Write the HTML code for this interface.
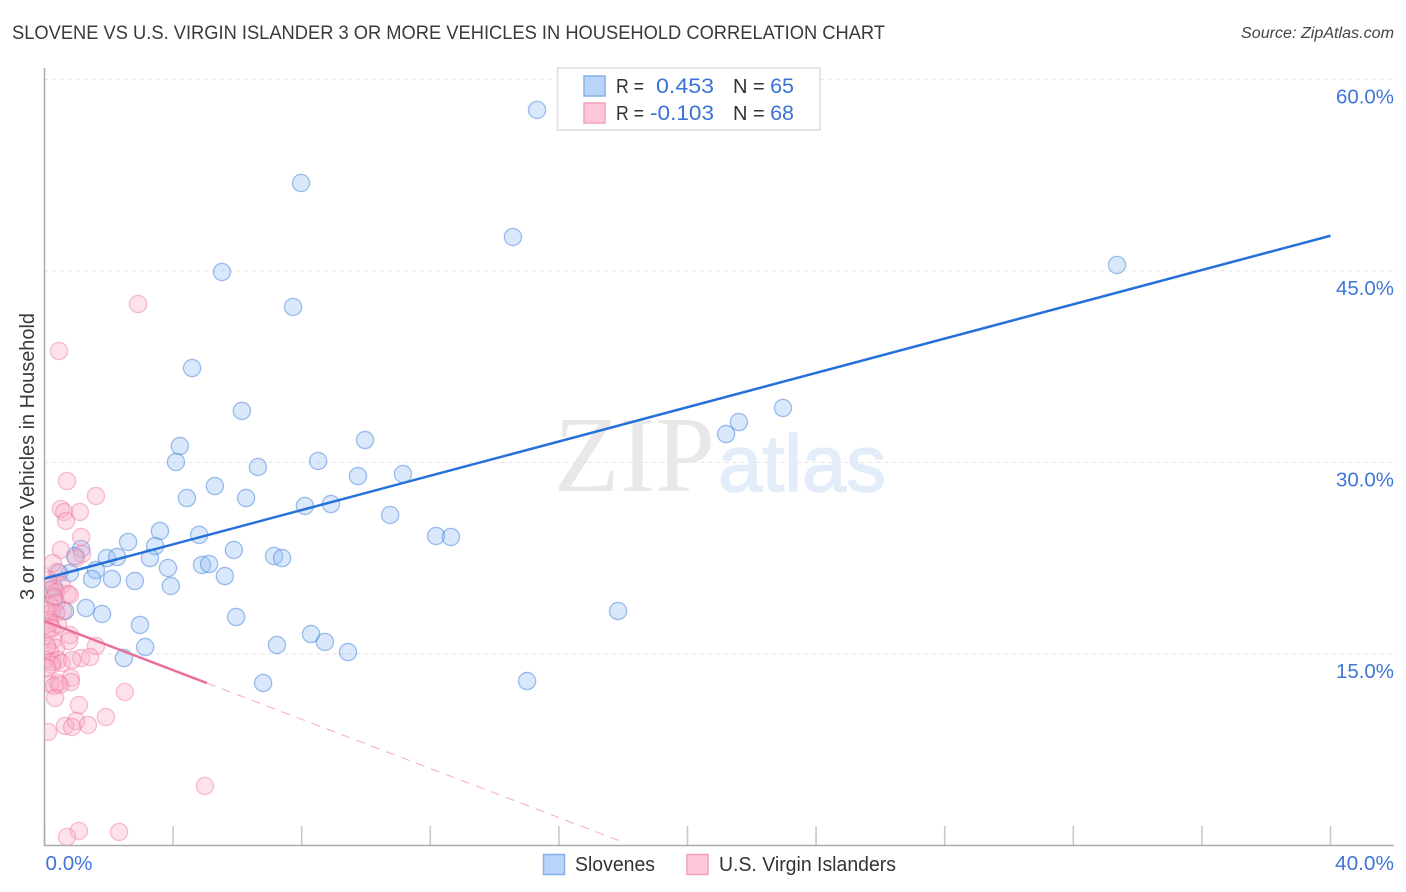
<!DOCTYPE html>
<html lang="en">
<head>
<meta charset="utf-8">
<title>Slovene vs U.S. Virgin Islander 3 or more Vehicles in Household Correlation Chart</title>
<style>
html,body{margin:0;padding:0;background:#fff;}
svg{display:block;font-family:"Liberation Sans",sans-serif;}
</style>
</head>
<body>
<svg id="chart" xmlns="http://www.w3.org/2000/svg" width="1406" height="892" viewBox="0 0 1406 892">
<defs><clipPath id="plot-clip"><rect x="44.5" y="60" width="1350" height="785"/></clipPath></defs>
<text x="12" y="39" font-size="19.5" fill="#3a3a3a" textLength="873" lengthAdjust="spacingAndGlyphs">SLOVENE VS U.S. VIRGIN ISLANDER 3 OR MORE VEHICLES IN HOUSEHOLD CORRELATION CHART</text>
<text x="1394" y="38" font-size="15.5" font-style="italic" fill="#444" text-anchor="end" textLength="153" lengthAdjust="spacingAndGlyphs">Source: ZipAtlas.com</text>
<text transform="translate(34 600) rotate(-90)" font-size="20" fill="#3a3a3a" textLength="287" lengthAdjust="spacingAndGlyphs">3 or more Vehicles in Household</text>
<g id="grid"></g>
<text x="554" y="491" font-family="'Liberation Serif',serif" font-size="108" fill="#e8e8e8" textLength="161" lengthAdjust="spacingAndGlyphs">ZIP</text>
<text x="718" y="491" font-size="80" fill="#e3edfa" stroke="#e3edfa" stroke-width="1.5" textLength="168" lengthAdjust="spacingAndGlyphs">atlas</text>
<g id="xticks"></g>
<line x1="44.5" y1="68" x2="44.5" y2="845.5" stroke="#aaa" stroke-width="1.5"/>
<line x1="44" y1="845.5" x2="1394" y2="845.5" stroke="#aaa" stroke-width="1.5"/>
<g id="points" clip-path="url(#plot-clip)"></g>
<g id="trends"></g>
<g id="ylabels"></g>
<g id="xlabels"></g>

<g>
  <rect x="557.5" y="68" width="262.5" height="62" fill="#fff" stroke="#ddd" stroke-width="1.5"/>
  <rect x="584" y="76" width="21" height="20" fill="#b9d4f8" stroke="#85b0e8" stroke-width="1.5"/>
  <rect x="584" y="103" width="21" height="20" fill="#fdc8da" stroke="#f2a2bc" stroke-width="1.5"/>
  <text x="616" y="93" font-size="20" fill="#333" textLength="28" lengthAdjust="spacingAndGlyphs">R =</text>
  <text x="714" y="93" font-size="21.5" fill="#3b72d6" text-anchor="end" textLength="58" lengthAdjust="spacingAndGlyphs">0.453</text>
  <text x="733" y="93" font-size="20" fill="#333">N =</text>
  <text x="794" y="93" font-size="21.5" fill="#3b72d6" text-anchor="end">65</text>
  <text x="616" y="120" font-size="20" fill="#333" textLength="28" lengthAdjust="spacingAndGlyphs">R =</text>
  <text x="714" y="120" font-size="21.5" fill="#3b72d6" text-anchor="end" textLength="64" lengthAdjust="spacingAndGlyphs">-0.103</text>
  <text x="733" y="120" font-size="20" fill="#333">N =</text>
  <text x="794" y="120" font-size="21.5" fill="#3b72d6" text-anchor="end">68</text>
</g>

<g>
  <rect x="543.5" y="854.5" width="21" height="20" fill="#b9d4f8" stroke="#85b0e8" stroke-width="1.5"/>
  <text x="575" y="871" font-size="20" fill="#333" textLength="80" lengthAdjust="spacingAndGlyphs">Slovenes</text>
  <rect x="687" y="854.5" width="21" height="20" fill="#fdc8da" stroke="#f2a2bc" stroke-width="1.5"/>
  <text x="719" y="871" font-size="20" fill="#333" textLength="177" lengthAdjust="spacingAndGlyphs">U.S. Virgin Islanders</text>
</g>
</svg>
<script>
const slovenesX = [15.32,7.98,14.57,5.52,7.73,33.36,4.59,6.14,22.97,21.60,21.20,9.97,4.21,4.09,8.51,6.64,9.75,11.15,5.30,4.43,6.27,8.10,8.91,10.75,3.59,4.81,2.60,3.44,12.18,12.64,5.89,1.14,0.95,1.94,2.26,3.28,7.14,7.39,4.90,5.12,3.84,5.61,1.60,0.79,0.45,1.48,2.10,2.81,3.93,17.84,1.29,1.79,0.64,5.96,2.97,8.29,8.72,3.13,7.23,9.44,2.47,6.80,15.01,0.30,0.30];
const slovenesY = [57.60,51.88,47.65,44.91,42.17,45.46,37.39,34.03,34.26,33.16,32.22,31.75,31.28,30.03,30.11,29.64,28.93,29.09,28.15,27.21,27.21,26.59,26.74,25.88,24.63,24.32,23.77,23.45,24.24,24.16,23.14,23.22,22.67,22.51,22.59,22.51,22.67,22.51,21.97,22.04,21.73,21.10,21.57,21.34,21.34,20.87,20.87,20.71,20.32,18.36,18.60,18.13,18.36,17.89,17.27,16.56,15.94,15.54,15.70,15.15,14.68,12.73,12.88,20.16,19.38];
const islandersX = [2.91,0.45,0.70,1.60,0.51,0.61,1.10,0.67,1.14,0.51,1.17,0.98,0.26,0.39,0.26,0.54,0.11,0.17,0.36,0.73,0.79,0.30,0.17,0.36,0.58,0.23,0.36,0.14,0.42,0.17,0.08,0.79,0.76,1.60,0.26,0.36,0.17,1.14,1.42,0.05,0.26,0.42,0.54,0.23,0.86,0.82,0.82,0.17,0.42,0.30,0.48,0.33,1.07,1.91,2.50,0.11,0.64,0.98,0.86,1.35,4.99,1.07,0.70,2.32,0.05,0.08,0.23,0.08];
const islandersY = [42.40,38.72,28.54,27.37,26.35,26.12,26.12,25.41,24.16,23.14,22.83,22.51,22.12,21.42,20.56,20.40,20.79,20.01,19.85,19.69,19.62,19.46,18.83,18.99,18.36,18.28,18.21,17.66,17.27,17.42,16.72,16.48,16.01,15.62,16.09,15.47,15.15,14.68,14.76,14.53,14.37,14.53,14.29,14.13,14.53,13.12,12.80,12.65,12.73,12.49,12.57,11.55,11.00,10.06,12.02,8.89,9.36,9.75,9.28,9.44,4.66,1.14,0.67,1.06,18.44,15.62,17.03,13.90];
const slovenesTrendX = [0,40];
const slovenesTrendY = [20.9,47.75];
const islandersTrendX = [0,5.05];
const islandersTrendY = [17.58,12.72];
const islandersDashX = [5.05,18.0];
const islandersDashY = [12.72,0.26];
const yTicks = [15,30,45,60];
const yTickLabels = ['15.0%','30.0%','45.0%','60.0%'];
const xTicks = [0,4,8,12,16,20,24,28,32,36,40];
const xEndTicks = [0,40];
const xEndLabels = ['0.0%','40.0%'];

const NS = 'http://www.w3.org/2000/svg';
function xScale(v){ return 44.5 + v * 32.15; }
function yScale(v){ return 845.5 - v * 12.77; }
function make(tag, parent, attrs){
  const el = document.createElementNS(NS, tag);
  for (const k in attrs) el.setAttribute(k, attrs[k]);
  document.getElementById(parent).appendChild(el);
  return el;
}

yTicks.forEach(function(v, i){
  const line = make('line', 'grid', {x1:44.5, x2:1394, y1:yScale(v), y2:yScale(v), stroke:'#e2e2e2', 'stroke-width':1, 'stroke-dasharray':'4 4'});
  
  
  const label = make('text', 'ylabels', {x:1394, y:yScale(v) + 24, 'text-anchor':'end', 'font-size':20, fill:'#3f75d8', textLength:58, lengthAdjust:'spacingAndGlyphs'});
  label.textContent = yTickLabels[i];
  
  
});

xTicks.forEach(function(v){
  const tick = make('line', 'xticks', {x1:xScale(v), x2:xScale(v), y1:826, y2:845, stroke:'#c8c8c8', 'stroke-width':1.6});
  
  
});
xEndTicks.forEach(function(v, i){
  const label = make('text', 'xlabels', i === 0
    ? {x:xScale(v) + 1, y:870, 'font-size':20, fill:'#3f75d8', textLength:47, lengthAdjust:'spacingAndGlyphs'}
    : {x:1394, y:870, 'font-size':20, fill:'#3f75d8', 'text-anchor':'end', textLength:59, lengthAdjust:'spacingAndGlyphs'});
  label.textContent = xEndLabels[i];
  
  
});

slovenesX.forEach(function(v, i){
  const dot = make('circle', 'points', {cx:xScale(v), cy:yScale(slovenesY[i]), r:8.6, fill:'rgba(150,190,243,0.36)', stroke:'rgba(70,130,220,0.5)', 'stroke-width':1.3});
  
  
});
islandersX.forEach(function(v, i){
  const dot = make('circle', 'points', {cx:xScale(v), cy:yScale(islandersY[i]), r:8.6, fill:'rgba(250,170,196,0.34)', stroke:'rgba(235,110,150,0.42)', 'stroke-width':1.3});
  
  
});

const blueLine = make('line', 'trends', {x1:xScale(slovenesTrendX[0]), y1:yScale(slovenesTrendY[0]), x2:xScale(slovenesTrendX[1]), y2:yScale(slovenesTrendY[1]), stroke:'#2571d9', 'stroke-width':2.5});


const pinkLine = make('line', 'trends', {x1:xScale(islandersTrendX[0]), y1:yScale(islandersTrendY[0]), x2:xScale(islandersTrendX[1]), y2:yScale(islandersTrendY[1]), stroke:'#e96f9b', 'stroke-width':2.5});


const pinkDash = make('line', 'trends', {x1:xScale(islandersDashX[0]), y1:yScale(islandersDashY[0]), x2:xScale(islandersDashX[1]), y2:yScale(islandersDashY[1]), stroke:'#f4aac3', 'stroke-width':1, 'stroke-dasharray':'9 7'});


</script>
</body>
</html>
